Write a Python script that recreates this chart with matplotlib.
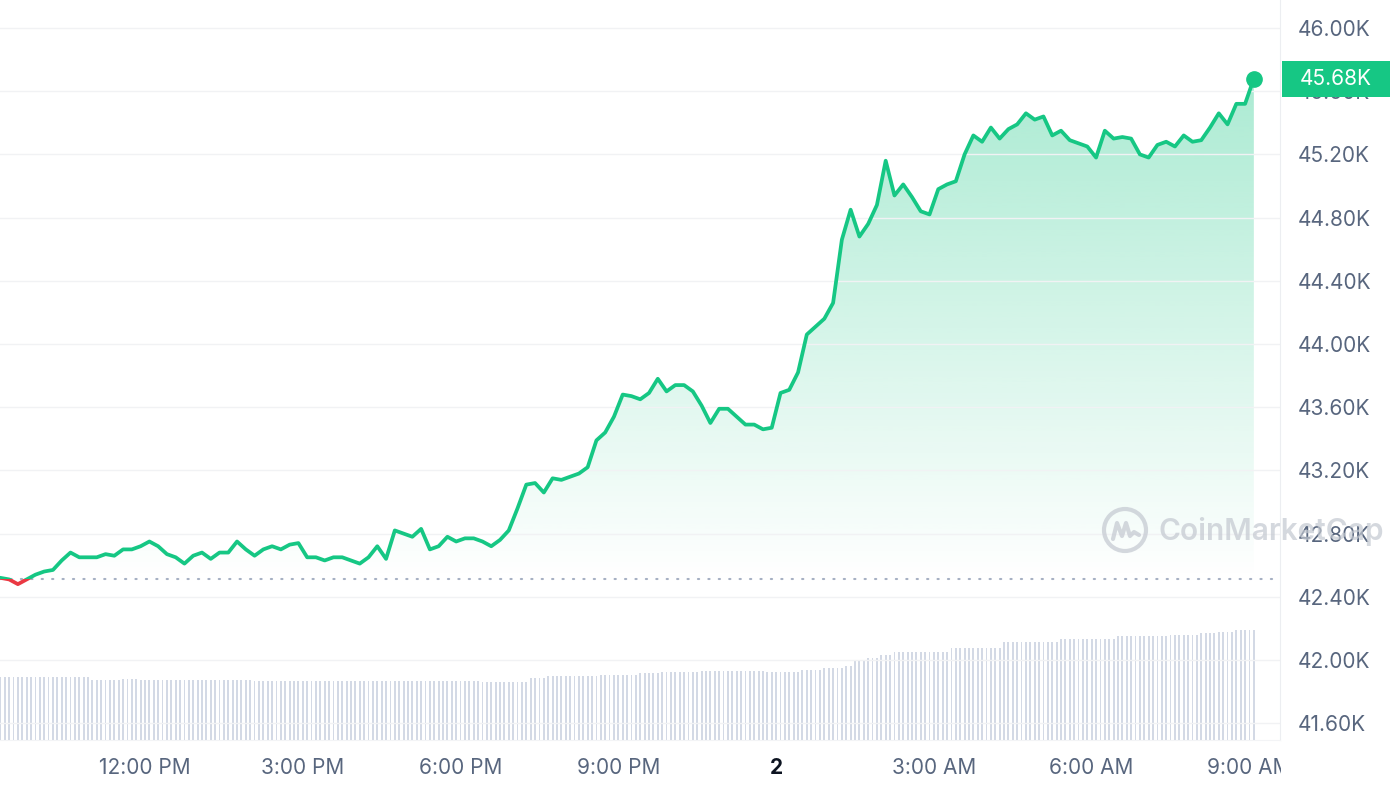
import numpy as np
import pandas as pd
import matplotlib
matplotlib.use("Agg")
import matplotlib.pyplot as plt
import matplotlib.dates as mdates
from matplotlib.patches import Rectangle, Ellipse
from matplotlib.lines import Line2D
from matplotlib.path import Path
from matplotlib.transforms import blended_transform_factory

# BTC price, 10 minute steps, in thousands of USD (Jan 1 09:05 -> Jan 2 09:05)
price = [
    42.52, 42.52, 42.51, 42.48, 42.51, 42.54,
    42.56, 42.57, 42.63, 42.68, 42.65, 42.65,
    42.65, 42.67, 42.66, 42.70, 42.70, 42.72,
    42.75, 42.72, 42.67, 42.65, 42.61, 42.66,
    42.68, 42.64, 42.68, 42.68, 42.75, 42.70,
    42.66, 42.70, 42.72, 42.70, 42.73, 42.74,
    42.65, 42.65, 42.63, 42.65, 42.65, 42.63,
    42.61, 42.65, 42.72, 42.64, 42.82, 42.80,
    42.78, 42.83, 42.70, 42.72, 42.78, 42.75,
    42.77, 42.77, 42.75, 42.72, 42.76, 42.82,
    42.96, 43.11, 43.12, 43.06, 43.15, 43.14,
    43.16, 43.18, 43.22, 43.39, 43.44, 43.54,
    43.68, 43.67, 43.65, 43.69, 43.78, 43.70,
    43.74, 43.74, 43.70, 43.61, 43.50, 43.59,
    43.59, 43.54, 43.49, 43.49, 43.46, 43.47,
    43.69, 43.71, 43.82, 44.06, 44.11, 44.16,
    44.26, 44.66, 44.85, 44.68, 44.76, 44.88,
    45.16, 44.94, 45.01, 44.93, 44.84, 44.82,
    44.98, 45.01, 45.03, 45.20, 45.32, 45.28,
    45.37, 45.30, 45.36, 45.39, 45.46, 45.42,
    45.44, 45.32, 45.35, 45.29, 45.27, 45.25,
    45.18, 45.35, 45.30, 45.31, 45.30, 45.20,
    45.18, 45.26, 45.28, 45.25, 45.32, 45.28,
    45.29, 45.37, 45.46, 45.39, 45.52, 45.52,
    45.68,
]

# 24h volume (billions USD), 5 minute steps, one row per hour
volume = [
    21.0, 21.0, 21.0, 21.0, 21.0, 21.0, 21.0, 21.0, 21.0, 21.0, 21.0, 21.0,
    21.0, 21.0, 21.0, 21.0, 21.0, 21.0, 21.0, 21.0, 21.0, 21.0, 21.0, 20.0,
    20.0, 20.0, 20.0, 20.0, 20.0, 20.0, 20.3, 20.3, 20.3, 20.3, 20.0, 20.0,
    20.0, 20.0, 20.0, 20.0, 20.0, 20.0, 20.0, 20.0, 20.0, 20.0, 20.0, 20.0,
    20.0, 20.0, 20.0, 20.0, 20.0, 20.0, 20.0, 20.0, 20.0, 20.0, 20.0, 20.0,
    19.7, 19.7, 19.7, 19.7, 19.7, 19.7, 19.7, 19.7, 19.7, 19.7, 19.7, 19.7,
    19.7, 19.7, 19.7, 19.7, 19.7, 19.7, 19.7, 19.7, 19.7, 19.7, 19.7, 19.7,
    19.7, 19.7, 19.7, 19.7, 19.7, 19.7, 19.7, 19.7, 19.7, 19.7, 19.7, 19.7,
    19.7, 19.7, 19.7, 19.7, 19.7, 19.7, 19.7, 19.7, 19.7, 19.7, 19.7, 19.7,
    19.7, 19.7, 19.7, 19.7, 19.3, 19.3, 19.3, 19.3, 19.3, 19.3, 19.3, 19.3,
    19.3, 19.3, 19.3, 20.7, 20.7, 20.7, 20.7, 21.3, 21.3, 21.3, 21.3, 21.3,
    21.3, 21.3, 21.3, 21.3, 21.3, 21.3, 21.3, 21.7, 21.7, 21.7, 21.7, 21.7,
    21.7, 21.7, 21.7, 21.7, 22.3, 22.3, 22.3, 22.3, 22.3, 22.7, 22.7, 22.7,
    22.7, 22.7, 22.7, 22.7, 22.7, 22.7, 23.0, 23.0, 23.0, 23.0, 23.0, 23.0,
    23.0, 23.0, 23.0, 23.0, 23.0, 23.0, 23.0, 23.0, 23.0, 22.7, 22.7, 22.7,
    22.7, 22.7, 22.7, 22.7, 22.7, 23.3, 23.3, 23.3, 23.3, 23.3, 24.0, 24.0,
    24.0, 24.0, 24.0, 24.7, 24.7, 26.7, 26.7, 26.7, 27.3, 27.3, 27.3, 28.3,
    28.3, 28.3, 29.3, 29.3, 29.3, 29.3, 29.3, 29.3, 29.3, 29.3, 29.3, 29.3,
    29.3, 29.3, 29.3, 30.7, 30.7, 30.7, 30.7, 30.7, 30.7, 30.7, 30.7, 30.7,
    30.7, 30.7, 30.7, 32.7, 32.7, 32.7, 32.7, 32.7, 32.7, 32.7, 32.7, 32.7,
    32.7, 32.7, 32.7, 32.7, 33.7, 33.7, 33.7, 33.7, 33.7, 33.7, 33.7, 33.7,
    33.7, 33.7, 33.7, 33.7, 33.7, 34.7, 34.7, 34.7, 34.7, 34.7, 34.7, 34.7,
    34.7, 34.7, 34.7, 34.7, 34.7, 35.0, 35.0, 35.0, 35.0, 35.0, 35.0, 35.0,
    35.7, 35.7, 35.7, 35.7, 36.0, 36.0, 36.0, 36.0, 36.7, 36.7, 36.7, 36.7,
    36.7,
]

y_ticks = [41.6, 42.0, 42.4, 42.8, 43.2, 43.6, 44.0, 44.4, 44.8, 45.2, 45.6, 46.0]
x_tick_times = ["2024-01-01 12:00", "2024-01-01 15:00", "2024-01-01 18:00", "2024-01-01 21:00",
                "2024-01-02 00:00", "2024-01-02 03:00", "2024-01-02 06:00", "2024-01-02 09:00"]
x_tick_labels = ["12:00 PM", "3:00 PM", "6:00 PM", "9:00 PM", "2", "3:00 AM", "6:00 AM", "9:00 AM"]

t_price = pd.date_range("2024-01-01 09:05", periods=len(price), freq="10min")
t_vol = pd.date_range("2024-01-01 09:05", periods=len(volume), freq="5min")
price = np.array(price)
baseline = price[0] - 0.007

GREEN = "#16c784"
RED = "#ea3943"
GRAY = "#58667e"

plt.rcParams["font.family"] = ["Inter", "DejaVu Sans"]

fig = plt.figure(figsize=(13.92, 7.92), dpi=100)
ax = fig.add_axes([0, 1 - 740 / 792, 1280 / 1392, 740 / 792])
ax2 = ax.twinx()
ax.set_zorder(ax2.get_zorder() + 1)
ax.patch.set_visible(False)

# volume bars
ax2.bar(t_vol, volume, width=2.1 / 1440, color="#d3d9e5", linewidth=0, align="center")
ax2.set_ylim(0, 740 / 3)
ax2.axis("off")

xmin = pd.Timestamp("2024-01-01 09:14:35")
xmax = pd.Timestamp("2024-01-02 09:34:50")

# gradient fill under the line
fill = ax.fill_between(t_price, price, baseline, where=price >= baseline, interpolate=True,
                       facecolor="none", edgecolor="none")
clip = Path.make_compound_path(*fill.get_paths())
grad = np.zeros((256, 1, 4))
grad[:, 0, :3] = matplotlib.colors.to_rgb(GREEN)
grad[:, 0, 3] = np.linspace(0.36, 0.0, 256)
x0, x1 = mdates.date2num(t_price[0]), mdates.date2num(t_price[-1])
im = ax.imshow(grad, extent=[x0, x1, baseline, price.max()], aspect="auto", origin="upper",
               zorder=1, interpolation="bilinear")
im.set_clip_path(clip, ax.transData)

# price line, green above the opening price, red below
blend = blended_transform_factory(ax.transAxes, ax.transData)
up = Rectangle((0, baseline), 1, 20, transform=blend)
down = Rectangle((0, baseline - 20), 1, 20, transform=blend)
l1, = ax.plot(t_price, price, color=GREEN, lw=2.7, solid_joinstyle="round",
              solid_capstyle="round", zorder=3)
l1.set_clip_path(up)
l2, = ax.plot(t_price, price, color=RED, lw=2.7, solid_joinstyle="round",
              solid_capstyle="round", zorder=3)
l2.set_clip_path(down)
ax.plot(t_price[-1], price[-1], "o", color=GREEN, markersize=11, zorder=4)

ax.axhline(baseline, color="#a6b0c3", lw=1.5, linestyle=(0, (0.6, 4.4)),
           dash_capstyle="round", zorder=2)

ax.set_xlim(xmin, xmax)
ax.set_ylim(46.0 - 740 / 158 + 28 / 158, 46.0 + 28 / 158)

ax.set_yticks(y_ticks)
ax.set_yticklabels([f"{v:.2f}K" for v in y_ticks])
ax.yaxis.tick_right()
ax.tick_params(axis="y", length=0, pad=13, labelsize=15, labelcolor=GRAY)
ax.set_xticks(pd.to_datetime(x_tick_times))
ax.set_xticklabels(x_tick_labels)
ax.tick_params(axis="x", length=0, pad=13, labelsize=15, labelcolor=GRAY)
for lab in ax.get_xticklabels():
    if lab.get_text() == "2":
        lab.set_fontweight("bold")
        lab.set_color("#0d1421")

ax.grid(axis="y", color="#f1f2f4", lw=1)
ax.grid(axis="x", visible=False)
for s in ["left", "top"]:
    ax.spines[s].set_visible(False)
ax.spines["right"].set_color("#eceef1")
ax.spines["bottom"].set_color("#f3f4f6")

# last price tag
ax.add_patch(Rectangle((1.0015, price[-1] - 0.114), 108 / 1280, 0.228, transform=blend,
                       facecolor=GREEN, edgecolor="none", clip_on=False, zorder=10))
ax.text(1.0015 + 54 / 1280, price[-1], f"{price[-1]:.2f}K", transform=blend, ha="center",
        va="center", color="white", fontsize=15, zorder=11, clip_on=False)

# hide clipped part of last x label
fig.add_artist(Rectangle((1281 / 1392, 0), 111 / 1392, 50 / 792, transform=fig.transFigure,
                         facecolor="white", edgecolor="none", zorder=5))

# watermark
wm = "#c3c8d0"
cx, cy = 1125, 530
fig.add_artist(Ellipse((cx / 1392, 1 - cy / 792), 42 / 1392, 42 / 792, transform=fig.transFigure,
                       facecolor="none", edgecolor=wm, lw=3.0, alpha=0.7, zorder=6))
wave_x = [cx - 12, cx - 8, cx - 3, cx + 1, cx + 5, cx + 9, cx + 14]
wave_y = [cy + 9, cy - 7, cy + 6, cy - 7, cy + 6, cy + 2, cy + 5]
fig.add_artist(Line2D([v / 1392 for v in wave_x], [1 - v / 792 for v in wave_y],
                      transform=fig.transFigure, color=wm, lw=3.0, alpha=0.7,
                      solid_joinstyle="round", solid_capstyle="round", zorder=6))
fig.text(1158 / 1392, 1 - 531 / 792, "CoinMarketCap", color=wm, alpha=0.7, fontsize=21.5,
         fontweight="semibold", ha="left", va="center", zorder=6)

fig.savefig("out.png", dpi=100)
